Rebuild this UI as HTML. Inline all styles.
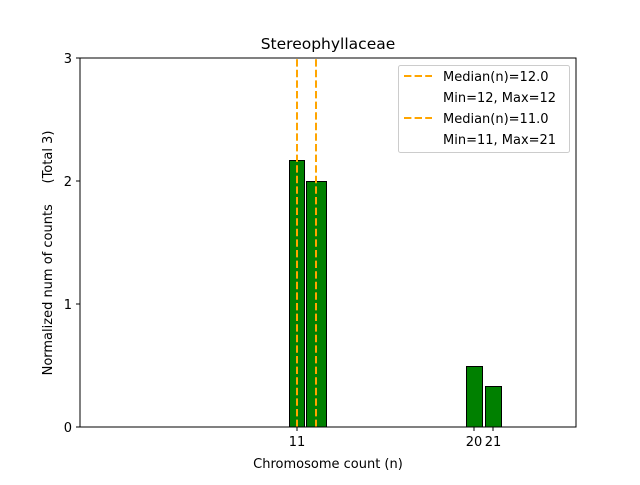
<!DOCTYPE html>
<html><head><meta charset="utf-8"><style>body{margin:0;background:#fff}</style></head><body>
<svg width="640" height="480" xmlns="http://www.w3.org/2000/svg" font-family="'DejaVu Sans','Liberation Sans',sans-serif">
<rect width="640" height="480" fill="#fff"/>
<line x1="80" y1="427" x2="385" y2="427" stroke="#bbb" stroke-width="1"/>
<g fill="#008000" stroke="#000" stroke-width="1">
<rect x="289.5" y="160.5" width="15" height="266.5"/>
<rect x="306.5" y="181.5" width="20" height="245.5"/>
<rect x="466.5" y="366.5" width="16" height="60.5"/>
<rect x="485.5" y="386.5" width="16" height="40.5"/>
</g>
<g stroke="#FFA500" stroke-width="2" stroke-dasharray="7.4,3.2">
<line x1="297" y1="427" x2="297" y2="58"/>
<line x1="316" y1="427" x2="316" y2="58"/>
</g>
<rect x="80" y="58" width="496" height="369" fill="none" stroke="#000" stroke-width="1"/>
<g stroke="#000" stroke-width="1">
<line x1="80" y1="427" x2="76" y2="427"/><line x1="80" y1="304" x2="76" y2="304"/>
<line x1="80" y1="181" x2="76" y2="181"/><line x1="80" y1="58" x2="76" y2="58"/>
<line x1="297" y1="427" x2="297" y2="431"/><line x1="474" y1="427" x2="474" y2="431"/><line x1="493" y1="427" x2="493" y2="431"/>
</g>
<g font-size="13" fill="#000">
<text x="72" y="432" text-anchor="end">0</text>
<text x="72" y="309" text-anchor="end">1</text>
<text x="72" y="186" text-anchor="end">2</text>
<text x="72" y="63" text-anchor="end">3</text>
<text x="297" y="446" text-anchor="middle">11</text>
<text x="474" y="446" text-anchor="middle">20</text>
<text x="493" y="446" text-anchor="middle">21</text>
<text x="328" y="468" text-anchor="middle">Chromosome count (n)</text>
<text transform="translate(52,253) rotate(-90)" text-anchor="middle" style="white-space:pre" xml:space="preserve">Normalized num of counts     (Total 3)</text>
</g>
<text x="328" y="49" text-anchor="middle" font-size="15.5">Stereophyllaceae</text>
<rect x="398.5" y="65.5" width="171" height="87" rx="2" fill="#fff" stroke="#ccc"/>
<g stroke="#FFA500" stroke-width="2" stroke-dasharray="7.4,3.2">
<line x1="404" y1="76" x2="432" y2="76"/>
<line x1="404" y1="118" x2="432" y2="118"/>
</g>
<g font-size="13" fill="#000">
<text x="443" y="81">Median(n)=12.0</text>
<text x="443" y="102">Min=12, Max=12</text>
<text x="443" y="123">Median(n)=11.0</text>
<text x="443" y="144">Min=11, Max=21</text>
</g>
</svg>
</body></html>
